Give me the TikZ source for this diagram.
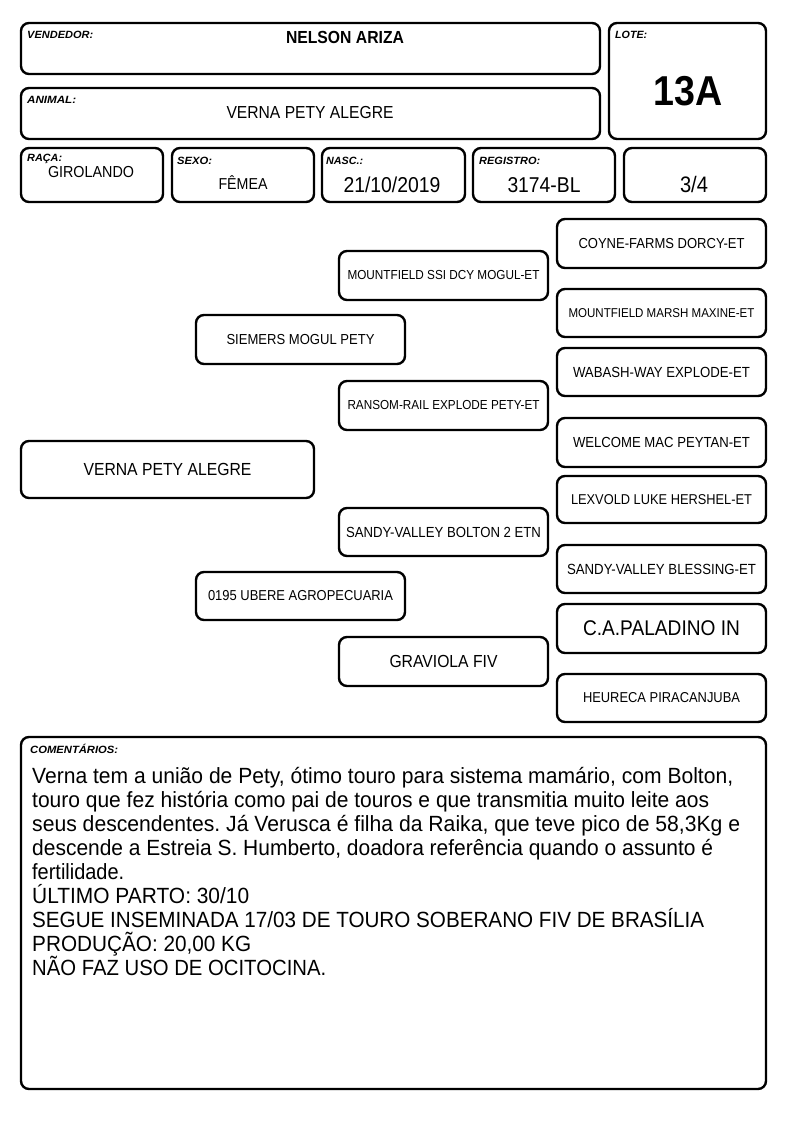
\documentclass[tikz,border=0pt]{standalone}
\usepackage{fontspec}
\setmainfont{Liberation Sans}
\usepackage{graphicx}
\frenchspacing
\newcommand\fitw[2]{\sbox0{#2}\pgfmathsetmacro\fitr{#1/\the\wd0}\scalebox{\fitr}[1]{\usebox0}}
\newcommand\fitc[3][\mdseries]{\sbox0{\fontsize{10}{10}\selectfont #1#3}%
  \pgfmathsetmacro\fsz{10*#2/(0.9*\the\wd0)}%
  \fontsize{\fsz}{\fsz}\selectfont #1\scalebox{0.9}[1]{#3}}
\newcommand\lb[1]{\fontsize{10.5}{10.5}\selectfont\bfseries\itshape #1}
\newcommand\cl[2]{\hbox{\fitw{#1}{#2}}}
\begin{document}
\begin{tikzpicture}[x=1pt,y=-1pt,
  box/.style={draw, line width=2.4pt, rounded corners=8pt, inner sep=0pt},
  pbox/.style={box, minimum width=209pt, minimum height=49pt},
  lbl/.style={anchor=base west, inner sep=0pt},
  val/.style={anchor=base, inner sep=0pt}]
\fill[white] (0,0) rectangle (794,1123);
\useasboundingbox (0,0) rectangle (794,1123);

% header boxes
\node[box, minimum width=579pt, minimum height=51pt] (vend) at (310.5,48.5) {};
\node[box, minimum width=579pt, minimum height=51pt] (anim) at (310.5,113.5) {};
\node[box, minimum width=157pt, minimum height=116pt] (lote) at (687.5,81) {};
\node[box, minimum width=142pt, minimum height=54pt] (raca) at (92,175) {};
\node[box, minimum width=142pt, minimum height=54pt] (sexo) at (243,175) {};
\node[box, minimum width=143pt, minimum height=54pt] (nasc) at (393.5,175) {};
\node[box, minimum width=142pt, minimum height=54pt] (reg) at (544,175) {};
\node[box, minimum width=142pt, minimum height=54pt] (frac) at (695,175) {};

\node[lbl] (lvend) at (27,39) {\fitw{66}{\lb{VENDEDOR:}}};
\node[lbl] (lanim) at (27,104) {\fitw{49}{\lb{ANIMAL:}}};
\node[lbl] (llote) at (615,39) {\fitw{32}{\lb{LOTE:}}};
\node[lbl] (lraca) at (27,162) {\fitw{35}{\lb{RAÇA:}}};
\node[lbl] (lsexo) at (177,165) {\fitw{35}{\lb{SEXO:}}};
\node[lbl] (lnasc) at (326,165) {\fitw{37}{\lb{NASC.:}}};
\node[lbl] (lreg) at (479,165) {\fitw{61}{\lb{REGISTRO:}}};

\node[val] (vvend) at (345,44) {\fitc[\bfseries]{118}{NELSON ARIZA}};
\node[val] (vanim) at (310,119) {\fitc{167}{VERNA PETY ALEGRE}};
\node[val] (vlote) at (688,106) {\fitc[\bfseries]{69}{13A}};
\node[val] (vraca) at (91,178) {\fitc{86}{GIROLANDO}};
\node[val] (vsexo) at (243,190) {\fitc{49}{FÊMEA}};
\node[val] (vnasc) at (392,193) {\fitc{97}{21/10/2019}};
\node[val] (vreg) at (544,193) {\fitc{73}{3174-BL}};
\node[val] (vfrac) at (694,193) {\fitc{28}{3/4}};

% pedigree
\node[box, minimum width=293pt, minimum height=57pt] (verna) at (167.5,469.5) {\fitc{168}{VERNA PETY ALEGRE}};
\node[pbox] (siemers) at (300.5,339.5) {\fitc{148}{SIEMERS MOGUL PETY}};
\node[pbox, minimum height=48pt] (ubere) at (300.5,596) {\fitc{185}{0195 UBERE AGROPECUARIA}};
\node[pbox] (mogul) at (443.5,275.5) {\fitc{192}{MOUNTFIELD SSI DCY MOGUL-ET}};
\node[pbox] (ransom) at (443.5,405.5) {\fitc{192}{RANSOM-RAIL EXPLODE PETY-ET}};
\node[pbox, minimum height=48pt] (bolton) at (443.5,532) {\fitc{195}{SANDY-VALLEY BOLTON 2 ETN}};
\node[pbox] (graviola) at (443.5,661.5) {\fitc{108}{GRAVIOLA FIV}};
\node[pbox] (coyne) at (661.5,243.5) {\fitc{166}{COYNE-FARMS DORCY-ET}};
\node[pbox, minimum height=48pt] (marsh) at (661.5,313) {\fitc{186}{MOUNTFIELD MARSH MAXINE-ET}};
\node[pbox, minimum height=48pt] (wabash) at (661.5,372) {\fitc{177}{WABASH-WAY EXPLODE-ET}};
\node[pbox] (welcome) at (661.5,442.5) {\fitc{177}{WELCOME MAC PEYTAN-ET}};
\node[pbox, minimum height=47pt] (lexvold) at (661.5,499.5) {\fitc{181}{LEXVOLD LUKE HERSHEL-ET}};
\node[pbox, minimum height=48pt] (blessing) at (661.5,569) {\fitc{189}{SANDY-VALLEY BLESSING-ET}};
\node[pbox] (paladino) at (661.5,628.5) {\fitc{157}{C.A.PALADINO IN}};
\node[pbox, minimum height=48pt] (heureca) at (661.5,698) {\fitc{157}{HEURECA PIRACANJUBA}};

% comments
\node[box, minimum width=745pt, minimum height=352pt] (cmt) at (393.5,913) {};
\node[lbl] (lcmt) at (30,753) {\fitw{88}{\lb{COMENTÁRIOS:}}};
\node[lbl] (tcmt) at (32,783) {\fontsize{22}{24}\selectfont\vtop{\baselineskip=24pt\lineskiplimit=-100pt\lineskip=0pt
\cl{701}{Verna tem a união de Pety, ótimo touro para sistema mamário, com Bolton,}
\cl{677}{touro que fez história como pai de touros e que transmitia muito leite aos}
\cl{708}{seus descendentes. Já Verusca é filha da Raika, que teve pico de 58,3Kg e}
\cl{681}{descende a Estreia S. Humberto, doadora referência quando o assunto é}
\cl{92}{fertilidade.}
\cl{217}{ÚLTIMO PARTO: 30/10}
\cl{672}{SEGUE INSEMINADA 17/03 DE TOURO SOBERANO FIV DE BRASÍLIA}
\cl{219}{PRODUÇÃO: 20,00 KG}
\cl{294}{NÃO FAZ USO DE OCITOCINA.}}};
\end{tikzpicture}
\end{document}
